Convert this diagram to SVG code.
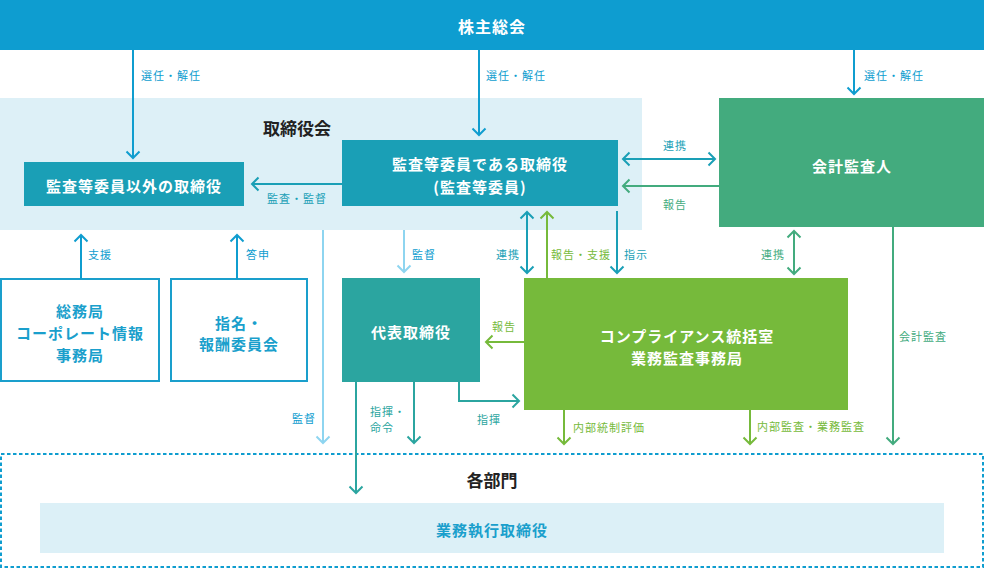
<svg xmlns="http://www.w3.org/2000/svg" width="984" height="569" viewBox="0 0 984 569">
<defs>
<style>
text{font-family:"Noto Sans CJK JP","Noto Sans",sans-serif;}
.bx{font-size:15px;font-weight:bold;fill:#fff;letter-spacing:1px;text-anchor:middle;dominant-baseline:central;}
.bo{font-size:15px;font-weight:bold;fill:#1a9fcc;letter-spacing:1px;text-anchor:middle;dominant-baseline:central;}
.ttl{font-size:17px;font-weight:bold;fill:#222;text-anchor:middle;dominant-baseline:central;}
.lb{font-size:11px;letter-spacing:1px;dominant-baseline:central;}
.ln{fill:none;stroke-width:2;}
.blue{stroke:#0f9dcf;} .teal{stroke:#1a9fb6;} .light{stroke:#8ed5f0;} .green{stroke:#43ab7e;} .lime{stroke:#76ba3b;} .teal2{stroke:#2ba5a0;}
.tblue{fill:#0f9dcf;} .tteal{fill:#1a9fb6;} .tgreen{fill:#43ab7e;} .tlime{fill:#76ba3b;} .tteal2{fill:#2ba5a0;}
.mk{fill:none;stroke-width:2;}
</style>
<marker id="mBlue" viewBox="-9 -9 18 18" markerWidth="18" markerHeight="18" markerUnits="userSpaceOnUse" refX="0" refY="0" orient="auto-start-reverse"><path class="mk" d="M-6.5,-6.5 L0,0 L-6.5,6.5" stroke="#0f9dcf"/></marker>
<marker id="mTeal" viewBox="-9 -9 18 18" markerWidth="18" markerHeight="18" markerUnits="userSpaceOnUse" refX="0" refY="0" orient="auto-start-reverse"><path class="mk" d="M-6.5,-6.5 L0,0 L-6.5,6.5" stroke="#1a9fb6"/></marker>
<marker id="mLight" viewBox="-9 -9 18 18" markerWidth="18" markerHeight="18" markerUnits="userSpaceOnUse" refX="0" refY="0" orient="auto-start-reverse"><path class="mk" d="M-6.5,-6.5 L0,0 L-6.5,6.5" stroke="#8ed5f0"/></marker>
<marker id="mGreen" viewBox="-9 -9 18 18" markerWidth="18" markerHeight="18" markerUnits="userSpaceOnUse" refX="0" refY="0" orient="auto-start-reverse"><path class="mk" d="M-6.5,-6.5 L0,0 L-6.5,6.5" stroke="#43ab7e"/></marker>
<marker id="mLime" viewBox="-9 -9 18 18" markerWidth="18" markerHeight="18" markerUnits="userSpaceOnUse" refX="0" refY="0" orient="auto-start-reverse"><path class="mk" d="M-6.5,-6.5 L0,0 L-6.5,6.5" stroke="#76ba3b"/></marker>
<marker id="mTeal2" viewBox="-9 -9 18 18" markerWidth="18" markerHeight="18" markerUnits="userSpaceOnUse" refX="0" refY="0" orient="auto-start-reverse"><path class="mk" d="M-6.5,-6.5 L0,0 L-6.5,6.5" stroke="#2ba5a0"/></marker>
</defs>

<g id="board-area">
<rect x="0" y="98" width="642" height="132" fill="#ddf0f7"/>
<text class="ttl" x="297" y="127">取締役会</text>
</g>

<g id="departments">
<rect x="1" y="454" width="982" height="113" fill="#fff" stroke="#0f9dcf" stroke-width="2" stroke-dasharray="3.5 2.5"/>
<text class="ttl" x="492" y="479">各部門</text>
</g>

<g id="shareholders">
<rect x="0" y="0" width="984" height="50" fill="#0e9dd0"/>
<text class="bx" x="492" y="26" style="font-size:16px">株主総会</text>
</g>

<g id="other-directors">
<rect x="24" y="162" width="220" height="44" fill="#1a9fb6"/>
<text class="bx" x="134" y="185">監査等委員以外の取締役</text>
</g>

<g id="audit-committee">
<rect x="342" y="140" width="276" height="66" fill="#1a9fb6"/>
<text class="bx" x="480" y="163">監査等委員である取締役</text>
<text class="bx" x="480" y="186">(監査等委員)</text>
</g>

<g id="accounting-auditor">
<rect x="719" y="98" width="265" height="129" fill="#43ab7e"/>
<text class="bx" x="852" y="165">会計監査人</text>
</g>

<g id="general-affairs">
<rect x="1" y="279" width="158" height="102" fill="#fff" stroke="#1a9fcc" stroke-width="2"/>
<text class="bo" x="80" y="310">総務局</text>
<text class="bo" x="80" y="332">コーポレート情報</text>
<text class="bo" x="80" y="354">事務局</text>
</g>

<g id="nomination-committee">
<rect x="171" y="279" width="136" height="102" fill="#fff" stroke="#1a9fcc" stroke-width="2"/>
<text class="bo" x="239" y="322">指名・</text>
<text class="bo" x="239" y="343">報酬委員会</text>
</g>

<g id="representative">
<rect x="342" y="278" width="138" height="104" fill="#2ba5a0"/>
<text class="bx" x="411" y="331">代表取締役</text>
</g>

<g id="compliance">
<rect x="524" y="278" width="324" height="132" fill="#76ba3b"/>
<text class="bx" x="687" y="335">コンプライアンス統括室</text>
<text class="bx" x="687" y="357">業務監査事務局</text>
</g>

<g id="executive-officers">
<rect x="40" y="503" width="904" height="50" fill="#dcf0f7"/>
<text class="bo" x="492" y="529">業務執行取締役</text>
</g>

<g id="connectors">
<line class="ln blue" x1="133" y1="50" x2="133" y2="158" marker-end="url(#mBlue)"/>
<line class="ln blue" x1="479" y1="50" x2="479" y2="135" marker-end="url(#mBlue)"/>
<line class="ln blue" x1="854" y1="50" x2="854" y2="94" marker-end="url(#mBlue)"/>
<text class="lb tblue" x="141" y="75">選任・解任</text>
<text class="lb tblue" x="486" y="75">選任・解任</text>
<text class="lb tblue" x="864" y="75">選任・解任</text>

<line class="ln teal" x1="342" y1="184" x2="252" y2="184" marker-end="url(#mTeal)"/>
<text class="lb tteal" x="267" y="198">監査・監督</text>

<line class="ln teal" x1="623" y1="159" x2="715" y2="159" marker-start="url(#mTeal)" marker-end="url(#mTeal)"/>
<text class="lb tteal" x="663" y="145">連携</text>
<line class="ln green" x1="719" y1="186" x2="623" y2="186" marker-end="url(#mGreen)"/>
<text class="lb tgreen" x="663" y="204">報告</text>

<line class="ln blue" x1="81" y1="279" x2="81" y2="235" marker-end="url(#mBlue)"/>
<text class="lb tblue" x="88" y="254">支援</text>
<line class="ln blue" x1="237" y1="279" x2="237" y2="235" marker-end="url(#mBlue)"/>
<text class="lb tblue" x="246" y="254">答申</text>

<line class="ln light" x1="323" y1="230" x2="323" y2="443" marker-end="url(#mLight)"/>
<text class="lb tblue" x="292" y="418">監督</text>
<line class="ln light" x1="404" y1="230" x2="404" y2="272" marker-end="url(#mLight)"/>
<text class="lb tblue" x="412" y="254">監督</text>

<line class="ln teal" x1="527" y1="212" x2="527" y2="273" marker-start="url(#mTeal)" marker-end="url(#mTeal)"/>
<text class="lb tteal" x="496" y="254">連携</text>
<line class="ln lime" x1="547" y1="278" x2="547" y2="212" marker-end="url(#mLime)"/>
<text class="lb tlime" x="551" y="254">報告・支援</text>
<line class="ln teal" x1="617" y1="211" x2="617" y2="273" marker-end="url(#mTeal)"/>
<text class="lb tteal" x="624" y="254">指示</text>

<line class="ln green" x1="794" y1="231" x2="794" y2="274" marker-start="url(#mGreen)" marker-end="url(#mGreen)"/>
<text class="lb tgreen" x="761" y="254">連携</text>

<line class="ln green" x1="893" y1="227" x2="893" y2="444" marker-end="url(#mGreen)"/>
<text class="lb tgreen" x="899" y="336">会計監査</text>

<line class="ln lime" x1="524" y1="342" x2="486" y2="342" marker-end="url(#mLime)"/>
<text class="lb tlime" x="492" y="326">報告</text>

<polyline class="ln teal2" points="459,382 459,401 519,401" marker-end="url(#mTeal2)"/>
<text class="lb tteal2" x="477" y="419">指揮</text>
<line class="ln teal2" x1="414" y1="382" x2="414" y2="443" marker-end="url(#mTeal2)"/>
<text class="lb tteal2" x="370" y="411">指揮・</text>
<text class="lb tteal2" x="370" y="427">命令</text>
<line class="ln teal2" x1="356" y1="382" x2="356" y2="493" marker-end="url(#mTeal2)"/>

<line class="ln lime" x1="564" y1="410" x2="564" y2="444" marker-end="url(#mLime)"/>
<text class="lb tlime" x="573" y="427">内部統制評価</text>
<line class="ln lime" x1="750" y1="410" x2="750" y2="444" marker-end="url(#mLime)"/>
<text class="lb tlime" x="757" y="426">内部監査・業務監査</text>
</g>
</svg>
